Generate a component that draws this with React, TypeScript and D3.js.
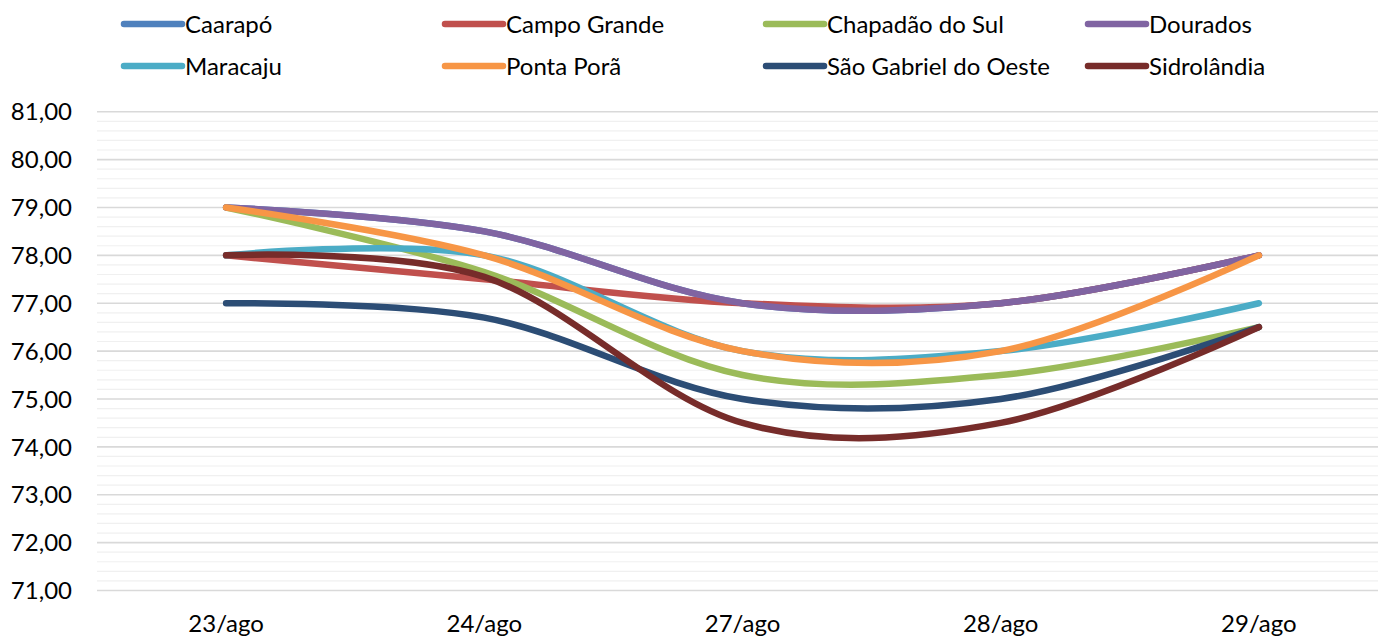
import React from "react";
import * as d3 from "d3";

const categories = ["23/ago", "24/ago", "27/ago", "28/ago", "29/ago"];
const seriesNames = [
  "Caarapó",
  "Campo Grande",
  "Chapadão do Sul",
  "Dourados",
  "Maracaju",
  "Ponta Porã",
  "São Gabriel do Oeste",
  "Sidrolândia",
];
const caarapo = [79, 78.5, 77, 77, 78];
const campoGrande = [78, 77.5, 77, 77, 78];
const chapadao = [79, 77.65, 75.5, 75.5, 76.5];
const dourados = [79, 78.5, 77, 77, 78];
const maracaju = [78, 78, 76, 76, 77];
const pontaPora = [79, 78, 76, 76, 78];
const saoGabriel = [77, 76.7, 75, 75, 76.5];
const sidrolandia = [78, 77.55, 74.5, 74.5, 76.5];
const seriesValues = [caarapo, campoGrande, chapadao, dourados, maracaju, pontaPora, saoGabriel, sidrolandia];
const colors = ["#4F81BD", "#C0504D", "#9BBB59", "#8064A2", "#4BACC6", "#F79646", "#2C4D75", "#772C2A"];
const yTicks = [71, 72, 73, 74, 75, 76, 77, 78, 79, 80, 81];

const W = 1378;
const H = 639;
const FONT = "Lato, 'Open Sans', sans-serif";

export default function App() {
  const x = d3.scaleBand<string>().domain(categories).range([97, 97 + 5 * 258.2]);
  const cx = (c: string) => (x(c) as number) + x.bandwidth() / 2;
  const y = d3.scaleLinear().domain([71, 81]).range([590.5, 111.7]);
  const minor = d3.range(71, 81.001, 0.2).filter((v) => Math.abs(v - Math.round(v)) > 0.01);
  const line = d3
    .line<number>()
    .x((_, i) => cx(categories[i]))
    .y((v) => y(v))
    .curve(d3.curveCardinal.tension(0));

  const legendX = [124, 445, 766, 1088];
  const legendY = [24, 66];

  return (
    <svg width={W} height={H} style={{ position: "absolute", left: 0, top: 0, background: "#fff" }}>
      <rect width={W} height={H} fill="#fff" />
      {minor.map((v, i) => (
        <line key={"m" + i} x1={97} x2={W} y1={y(v)} y2={y(v)} stroke="#F0F0F0" strokeWidth={1.2} />
      ))}
      {yTicks.map((v) => (
        <line key={"g" + v} x1={97} x2={W} y1={y(v)} y2={y(v)} stroke="#D9D9D9" strokeWidth={1.6} />
      ))}
      {yTicks.map((v) => (
        <text
          key={"t" + v}
          x={72}
          y={y(v)}
          dy="0.36em"
          textAnchor="end"
          fontFamily={FONT}
          fontSize={24}
          fill="#000"
        >
          {d3.format(".2f")(v).replace(".", ",")}
        </text>
      ))}
      {categories.map((c) => (
        <text key={c} x={cx(c)} y={632} textAnchor="middle" fontFamily={FONT} fontSize={24} fill="#000">
          {c}
        </text>
      ))}
      {seriesValues.map((vals, i) => (
        <path
          key={seriesNames[i]}
          d={line(vals) || ""}
          fill="none"
          stroke={colors[i]}
          strokeWidth={6.5}
          strokeLinecap="round"
          strokeLinejoin="round"
        />
      ))}
      {seriesNames.map((n, i) => {
        const lx = legendX[i % 4];
        const ly = legendY[Math.floor(i / 4)];
        return (
          <g key={"l" + n}>
            <line x1={lx} x2={lx + 58} y1={ly} y2={ly} stroke={colors[i]} strokeWidth={6.5} strokeLinecap="round" />
            <text x={lx + 61} y={ly} dy="0.36em" fontFamily={FONT} fontSize={24} fill="#000">
              {n}
            </text>
          </g>
        );
      })}
    </svg>
  );
}
